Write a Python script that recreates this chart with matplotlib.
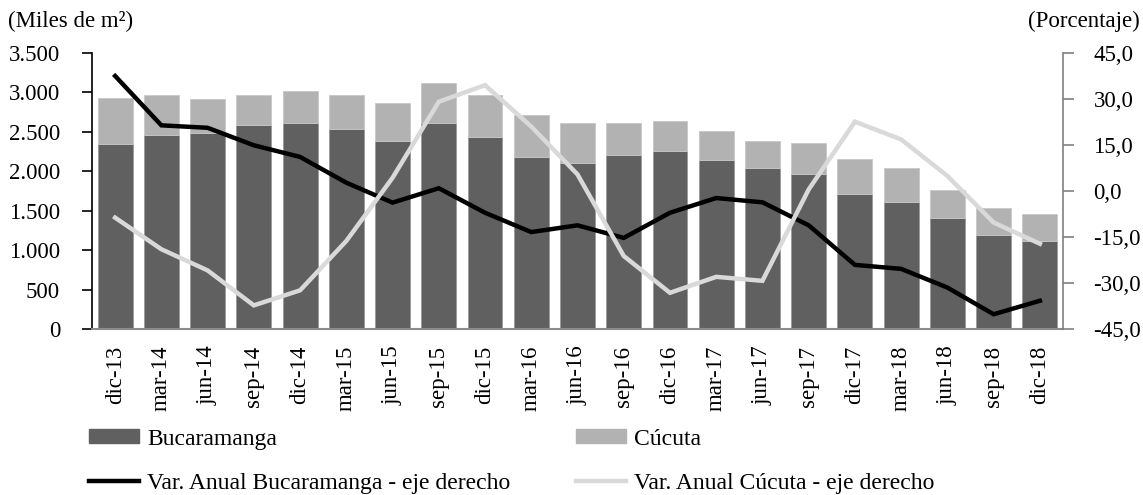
import matplotlib
matplotlib.use("Agg")
import matplotlib.pyplot as plt
import numpy as np
from matplotlib.patches import Patch
from matplotlib.lines import Line2D

plt.rcParams['font.family'] = ['Liberation Serif', 'DejaVu Serif']
plt.rcParams['font.size'] = 16.5

periodos = ['dic-13', 'mar-14', 'jun-14', 'sep-14', 'dic-14', 'mar-15', 'jun-15',
            'sep-15', 'dic-15', 'mar-16', 'jun-16', 'sep-16', 'dic-16', 'mar-17',
            'jun-17', 'sep-17', 'dic-17', 'mar-18', 'jun-18', 'sep-18', 'dic-18']

# miles de m2
bucaramanga = [2350, 2457, 2487, 2584, 2614, 2538, 2385, 2614, 2432, 2186, 2110,
               2207, 2258, 2139, 2038, 1961, 1707, 1605, 1406, 1186, 1110]
total = [2931, 2966, 2915, 2966, 3016, 2966, 2864, 3114, 2966, 2711, 2614,
         2614, 2639, 2512, 2390, 2364, 2161, 2038, 1758, 1538, 1462]
cucuta = [t - b for t, b in zip(total, bucaramanga)]

# variacion anual (%)
var_buc = [37.5, 21.4, 20.6, 14.9, 11.1, 2.7, -3.8, 0.9, -7.1, -13.4, -11.2,
           -15.3, -7.1, -2.3, -3.7, -11.2, -24.1, -25.4, -31.5, -40.2, -35.8]
var_cuc = [-8.7, -19.0, -25.9, -37.3, -32.4, -16.3, 4.3, 29.1, 34.5, 21.0, 5.4,
           -21.2, -33.2, -28.0, -29.3, 0.5, 22.6, 16.8, 4.9, -10.3, -17.2]

c_buc = '#606060'
c_cuc = '#b2b2b2'
c_lbuc = '#000000'
c_lcuc = '#d9d9d9'

fig = plt.figure(figsize=(11.43, 4.95), dpi=100)
ax = fig.add_axes([0.0805, 0.3354, 0.8495, 0.5576])
ax2 = ax.twinx()

x = np.arange(len(periodos))
ax.bar(x, bucaramanga, width=0.755, color=c_buc, edgecolor='#9a9a9a', linewidth=0.6, zorder=2)
ax.bar(x, cucuta, bottom=bucaramanga, width=0.755, color=c_cuc, edgecolor='#c8c8c8',
       linewidth=0.6, zorder=2)

ax2.plot(x, var_buc, color=c_lbuc, lw=3.2, solid_joinstyle='miter')
ax2.plot(x, var_cuc, color=c_lcuc, lw=3.2, solid_joinstyle='miter')

ax.set_xlim(-0.5, len(periodos) - 0.5)
ax.set_ylim(0, 3500)
ax.set_yticks(np.arange(0, 3501, 500))
ax.set_yticklabels([f'{v:,}'.replace(',', '.') for v in range(0, 3501, 500)])
ax2.set_ylim(-45, 45)
ax2.set_yticks(np.arange(-45, 46, 15))
ax2.set_yticklabels([f'{v:.1f}'.replace('.', ',') for v in np.arange(-45, 46, 15)])

ax.set_xticks(x)
ax.set_xticklabels(periodos, rotation=90)
ax.tick_params(axis='x', length=0, pad=12)
ax.tick_params(axis='y', direction='out', length=7, width=1.2, colors='black', pad=16)
ax2.tick_params(axis='y', direction='out', length=8, width=1.2, color='#808080',
                labelcolor='black', pad=14)

for a in (ax, ax2):
    a.spines['top'].set_visible(False)
ax.spines['right'].set_visible(False)
ax.spines['left'].set_color('black')
ax.spines['left'].set_linewidth(1.2)
ax.spines['bottom'].set_color('#8c8c8c')
ax.spines['bottom'].set_linewidth(1.5)
ax2.spines['left'].set_visible(False)
ax2.spines['bottom'].set_visible(False)
ax2.spines['right'].set_color('#808080')
ax2.spines['right'].set_linewidth(1.2)

fig.text(0.007, 0.957, '(Miles de m²)', ha='left', va='center')
fig.text(0.997, 0.957, '(Porcentaje)', ha='right', va='center')

leg_kw = dict(loc='upper left', frameon=False, handlelength=2.1, handleheight=0.55,
              handletextpad=0.35, labelspacing=0.98, borderaxespad=0, borderpad=0,
              fontsize=17)
leg1 = fig.legend([Patch(facecolor=c_buc, edgecolor=c_buc), Line2D([], [], color=c_lbuc, lw=3.2)],
                  ['Bucaramanga', 'Var. Anual Bucaramanga - eje derecho'],
                  bbox_to_anchor=(0.078, 0.134), **leg_kw)
leg2 = fig.legend([Patch(facecolor=c_cuc, edgecolor=c_cuc), Line2D([], [], color=c_lcuc, lw=3.2)],
                  ['Cúcuta', 'Var. Anual Cúcuta - eje derecho'],
                  bbox_to_anchor=(0.504, 0.134), **leg_kw)

fig.savefig('out.png', dpi=100)
